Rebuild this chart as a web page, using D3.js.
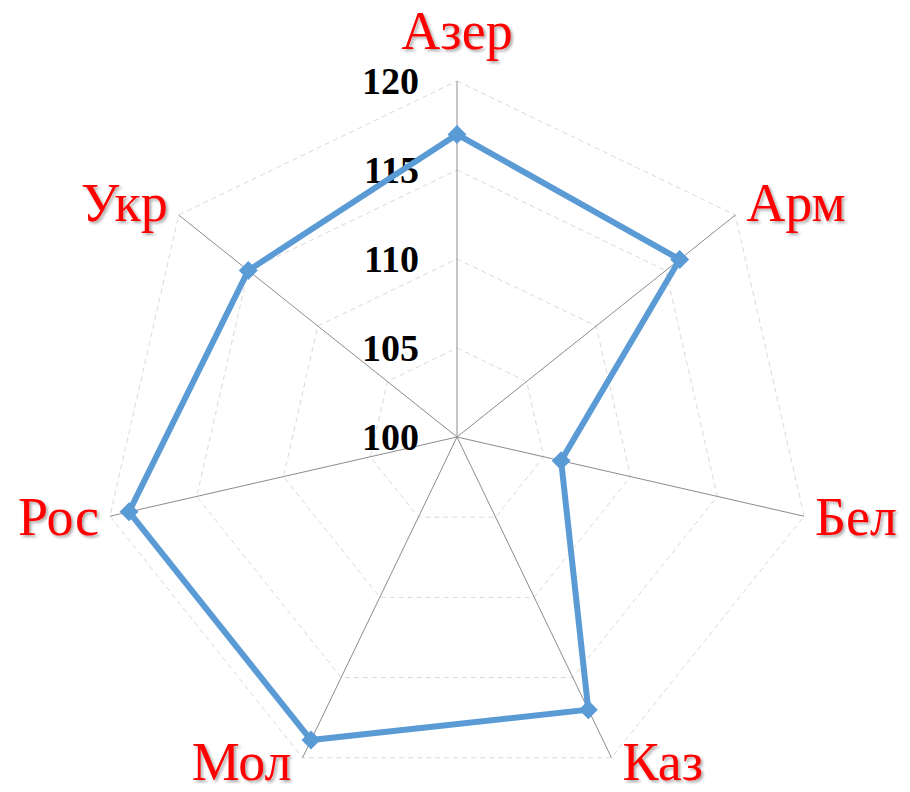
<!DOCTYPE html>
<html>
<head>
<meta charset="utf-8">
<script src="https://cdn.jsdelivr.net/npm/d3@7"></script>
<style>
	body { margin: 0; background: #fff; }
	svg { display: block; }
</style>
</head>
<body>
<div class="container"></div>
<script>
var categories = ['Азер', 'Арм', 'Бел', 'Каз', 'Мол', 'Рос', 'Укр'];
var values = [117.0, 116.0, 106.0, 117.0, 118.9, 118.9, 115.0];
var ticks = [100, 105, 110, 115, 120];

var width = 910, height = 792;
var cx = 457, cy = 437, R = 356;

var svg = d3.select('.container')
	.append('svg')
	.attr('width', width)
	.attr('height', height);

var defs = svg.append('defs');
defs.append('filter')
	.attr('id', 'shadow')
	.attr('x', '-20%').attr('y', '-20%')
	.attr('width', '140%').attr('height', '140%')
	.append('feDropShadow')
	.attr('dx', 2).attr('dy', 2)
	.attr('stdDeviation', 1.5)
	.attr('flood-color', '#000')
	.attr('flood-opacity', 0.35);

var r = d3.scaleLinear().domain([100, 120]).range([0, R]);
var angle = d3.scalePoint()
	.domain(categories.concat(['_end']))
	.range([0, 2 * Math.PI]);

function px(cat, v) { return cx + r(v) * Math.sin(angle(cat)); }
function py(cat, v) { return cy - r(v) * Math.cos(angle(cat)); }

// dashed rings
ticks.slice(1).forEach(function(t) {
	svg.append('polygon')
		.attr('points', categories.map(function(c) { return px(c, t) + ',' + py(c, t); }).join(' '))
		.attr('fill', 'none')
		.attr('stroke', '#d9d9d9')
		.attr('stroke-width', 1)
		.attr('stroke-dasharray', '5,4');
});

// spokes
svg.selectAll('.spoke')
	.data(categories)
	.enter().append('line')
	.attr('class', 'spoke')
	.attr('x1', cx).attr('y1', cy)
	.attr('x2', function(c) { return px(c, 120); })
	.attr('y2', function(c) { return py(c, 120); })
	.attr('stroke', '#8c8c8c')
	.attr('stroke-width', 1);

// tick labels
svg.selectAll('.tick-label')
	.data(ticks)
	.enter().append('text')
	.attr('class', 'tick-label')
	.attr('x', 419)
	.attr('y', function(t) { return cy - r(t); })
	.attr('dy', '0.35em')
	.attr('text-anchor', 'end')
	.attr('font-family', '"Liberation Serif", "DejaVu Serif", serif')
	.attr('font-weight', 'bold')
	.attr('font-size', 38)
	.attr('fill', '#000')
	.text(function(t) { return t; });

// series
var data = categories.map(function(c, i) { return { cat: c, v: values[i] }; });

svg.append('path')
	.datum(data)
	.attr('d', d3.line()
		.x(function(d) { return px(d.cat, d.v); })
		.y(function(d) { return py(d.cat, d.v); })
		.curve(d3.curveLinearClosed))
	.attr('fill', 'none')
	.attr('stroke', '#5b9bd5')
	.attr('stroke-width', 6)
	.attr('stroke-linejoin', 'miter');

svg.selectAll('.marker')
	.data(data)
	.enter().append('path')
	.attr('class', 'marker')
	.attr('d', d3.symbol().type(d3.symbolDiamond2).size(230))
	.attr('transform', function(d) { return 'translate(' + px(d.cat, d.v) + ',' + py(d.cat, d.v) + ')'; })
	.attr('fill', '#5b9bd5');

// category labels
svg.selectAll('.cat-label')
	.data(categories)
	.enter().append('text')
	.attr('class', 'cat-label')
	.attr('x', function(c) {
		var s = Math.sin(angle(c));
		return px(c, 120) + (Math.abs(s) < 0.1 ? 0 : (s > 0 ? 11 : -11));
	})
	.attr('y', function(c) {
		var k = Math.cos(angle(c));
		var off = k > 0.9 ? -32 : (k > 0 ? 6 : (k > -0.5 ? 19 : 22));
		return py(c, 120) + off;
	})
	.attr('text-anchor', function(c) {
		var s = Math.sin(angle(c));
		return Math.abs(s) < 0.1 ? 'middle' : (s > 0 ? 'start' : 'end');
	})
	.attr('font-family', '"Liberation Serif", "DejaVu Serif", serif')
	.attr('font-size', 54)
	.attr('fill', '#ff0000')
	.attr('filter', 'url(#shadow)')
	.text(function(c) { return c; });
</script>
</body>
</html>
